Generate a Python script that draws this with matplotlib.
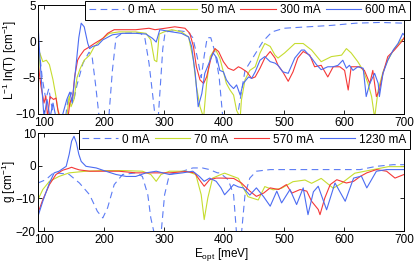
import numpy as np
import matplotlib
matplotlib.use("Agg")
import matplotlib.pyplot as plt

plt.rcParams['font.family'] = ['Liberation Sans', 'DejaVu Sans']
plt.rcParams['mathtext.default'] = 'regular'
plt.rcParams['font.size'] = 8.5

# colours of the four currents
c_dash = '#5c7cf5'
c_yel = '#c6dc30'
c_red = '#f53838'
c_blu = '#4c6cf2'

# ---- top panel: L^-1 ln(T) ----
top_labels = ['0 mA', '50 mA', '300 mA', '600 mA']

top_e_0 = [90, 97, 103, 108, 113, 118, 135, 140, 145, 150, 155, 165, 175, 180, 186, 192, 200, 208, 214, 220,
           230, 260, 268, 275, 282, 286, 290, 294, 298, 302, 320, 340, 348, 355, 362, 367, 372, 378, 385, 392,
           398, 410, 422, 435, 450, 465, 480, 500, 540, 580, 620, 660, 700]
top_0 = [0.5, -5, -8, -6.5, -9, -11, -11, -8, -7, -8, -6, -3, -1.5, -2, -6, -10.5, -13, -10.5, -4, 0.5,
         1.1, 1.2, 0.5, -3, -8, -11, -11, -6, -1, 1.3, 1.5, 1.3, 0.5, -2, -5, -2, 0.5, 0.5, -1.5, -5,
         -10.5, -14, -10.5, -4, -2, 0, 1.3, 1.8, 2.0, 2.2, 2.5, 2.6, 2.5]

top_e_50 = [90, 93, 98, 104, 109, 115, 120, 125, 130, 138, 142, 145, 150, 155, 160, 167, 176, 184, 198, 209,
            225, 253, 270, 278, 284, 288, 292, 300, 313, 329, 341, 349, 354, 360, 366, 371, 377, 385, 393, 399,
            404, 410, 416, 421, 427, 429, 435, 443, 452, 460, 468, 477, 485, 490, 501, 518, 532, 546, 562, 579,
            596, 604, 612, 623, 632, 640, 646, 651, 657, 665, 673, 684, 696, 700]
top_50 = [-6, -1.6, -2.8, -2.6, -3.2, -5.3, -7.6, -10.5, -11, -10.5, -7.5, -9, -8, -5, -3.8, -2.6, -1.9, -0.7, 0.4, 1.1,
          1.3, 1.3, 1.1, 0.2, -2.6, -2.8, 1.0, 1.3, 1.6, 1.3, 0.6, -2.6, -6.2, -9, -10.5, -5.8, -2.1, -1.0, -2.3, -4.2,
          -5.8, -6.7, -7.4, -9.5, -10.5, -8.1, -5.3, -4, -3.5, -1.6, -0.3, -0.7, -1.9, -2.3, -1.6, -0.3, -0.3, -1.2, -2.8, -2.1,
          -1.9, -1.0, -1.6, -2.8, -4, -5.8, -7.6, -10.5, -6.7, -4.2, -2.6, -1, 0.2, 0.3]

top_e_300 = [90, 95, 100, 103, 106, 110, 116, 120, 123, 127, 140, 143, 148, 151, 156, 160, 167, 175, 184, 198,
             206, 217, 231, 253, 275, 285, 302, 318, 335, 343, 349, 354, 360, 366, 371, 379, 385, 391, 399, 407,
             416, 424, 429, 438, 446, 452, 460, 468, 477, 485, 490, 498, 507, 515, 523, 532, 543, 551, 562, 573,
             582, 593, 601, 607, 612, 626, 634, 643, 648, 654, 659, 665, 673, 684, 696, 700]
top_300 = [-3, -6.2, -8.5, -7.5, -10.5, -7.6, -8, -7.8, -9.4, -10.5, -10.5, -8.5, -7.5, -4.9, -2.6, -2, -1.2, -0.8, -0.3, 0.4,
           1.1, 1.6, 1.6, 1.6, 1.8, 1.6, 1.8, 2.0, 1.8, 1.1, -0.7, -3.5, -5.3, -5.8, -4.9, -2.1, -1.0, -1.4, -2.8, -3.7,
           -4.0, -3.5, -3.7, -4.2, -5.1, -4.9, -3.7, -2.3, -1.4, -2.3, -3.3, -4.2, -5.5, -4.2, -2.3, -1.4, -1.9, -3.5, -3.3, -4.9,
           -3.5, -3.5, -4.0, -6.7, -3.5, -3.5, -4.0, -5.8, -4.0, -7.6, -6.7, -4.4, -2.1, -1.2, -0.05, 0.5]

top_e_600 = [90, 93, 97, 100, 105, 110, 115, 120, 128, 138, 143, 147, 150, 155, 158, 162, 167, 173, 176, 181,
             190, 198, 214, 231, 253, 270, 281, 287, 293, 313, 329, 341, 346, 352, 357, 363, 368, 377, 382, 388,
             393, 399, 404, 410, 416, 421, 427, 432, 441, 446, 452, 460, 468, 477, 485, 490, 498, 507, 518, 529,
             534, 546, 554, 562, 573, 582, 590, 598, 604, 609, 615, 623, 632, 637, 643, 651, 657, 659, 665, 673,
             682, 690, 698, 700]
top_600 = [2.5, -2, -7, -10.5, -8, -10.5, -8.5, -10.5, -11, -8, -7, -8.5, -6, -2, 0.5, 2.5, 2.0, -0.3, -1.0, -0.7,
           -0.5, 0.2, 0.9, 1.1, 1.1, 1.0, 0.4, -0.1, 1.6, 1.3, 1.1, 0.6, -0.7, -4.4, -9, -7.2, -4.4, -2.6, -1.6, -2.3,
           -4, -4.2, -5.3, -6, -6.5, -6, -7.4, -5.8, -4.9, -5.1, -4.2, -2.6, -2.1, -2.8, -3, -3.3, -4.2, -4.4, -2.3, -1.2,
           -1.2, -2.3, -3.2, -3.9, -3.5, -3.5, -3.3, -2.6, -3.7, -3.3, -4, -3.5, -3.7, -7.6, -5.8, -4.4, -5.8, -7.6, -4.4, -2.6,
           -1.2, -0.3, 1.1, 0.9]

# ---- bottom panel: gain g ----
bot_labels = ['0 mA', '70 mA', '570 mA', '1230 mA']

bot_e_0 = [90, 103, 114, 125, 142, 159, 176, 189, 198, 206, 217, 231, 253, 264, 273, 278, 284, 290, 295, 301,
           309, 331, 348, 364, 376, 389, 393, 407, 416, 421, 425, 429, 435, 443, 454, 477, 532, 588, 627, 654,
           682, 700]
bot_0 = [-5.3, -4.3, -2.5, -2.3, -2.7, -5.3, -8.9, -14, -16, -12.9, -5.8, -2.7, -2.2, -3.3, -8.9, -16, -21, -24, -21, -8.9,
         -2.7, -1.7, -0.7, -0.7, -1.2, -2.2, -2.2, -4.3, -8.9, -21, -25, -21, -8.9, -3.8, -1.7, -1.2, -1.2, -1.2, -1.2, -0.2,
         0.3, 0.3]

bot_e_70 = [90, 98, 109, 125, 142, 170, 198, 231, 264, 278, 287, 295, 309, 337, 353, 362, 367, 373, 381, 395,
            401, 424, 440, 457, 468, 482, 496, 515, 535, 546, 562, 582, 596, 618, 646, 674, 700]
bot_70 = [-10.4, -7.3, -4.8, -3.3, -2.2, -1.7, -1.5, -1.5, -1.7, -2.7, -4.8, -2.7, -1.7, -1.7, -2.7, -8.9, -16.5, -9.9, -3.8, -2.7,
          -2.3, -3.9, -9.5, -10.5, -6.4, -7.4, -6.9, -4.9, -4.4, -5.4, -3.9, -6.9, -5.4, -2.3, -1.3, -0.3, -0.3]

bot_e_570 = [90, 98, 109, 120, 131, 140, 146, 152, 159, 176, 198, 225, 253, 281, 309, 337, 351, 359, 367, 376,
             387, 395, 416, 429, 443, 454, 466, 477, 491, 504, 513, 527, 538, 546, 557, 560, 568, 577, 588, 604,
             616, 627, 638, 654, 671, 685, 700]
bot_570 = [-14.5, -10.4, -5.8, -2.7, -1.4, -0.9, -0.5, -0.9, -1.3, -1.7, -1.7, -1.7, -2.2, -2.2, -2.2, -1.8, -2.2, -4.3, -6.3, -4.3,
           -3.8, -3.8, -3.9, -5.3, -7.8, -9.4, -8.4, -6.8, -7.3, -5.8, -8.4, -7.3, -7.8, -10.9, -13.4, -15, -9.9, -5.8, -4.3, -5.3,
           -4.8, -3.3, -2.2, -1.2, -1.7, -3.8, -2.7]

bot_e_1230 = [90, 98, 109, 117, 125, 137, 142, 146, 150, 154, 158, 162, 170, 187, 203, 220, 237, 253, 270, 287,
              309, 331, 348, 359, 367, 376, 387, 395, 401, 408, 416, 424, 432, 443, 454, 466, 477, 488, 496, 510,
              521, 532, 540, 549, 557, 571, 585, 602, 616, 629, 638, 654, 671, 700]
bot_1230 = [-15.5, -10.9, -5.3, -2.2, -1.7, -0.2, 3.5, 7.5, 9, 7, 3.5, 1.3, -0.2, -0.7, -1.7, -2.7, -3.3, -3.3, -2.2, -1.7,
            -2.7, -2.2, -1.7, -3.3, -4.8, -3.8, -4.8, -6.8, -8.9, -7.5, -5.8, -6.5, -6.8, -9.0, -6.8, -9.5, -12.4, -7.8, -11.4, -7.3,
            -11.9, -6.8, -15, -8, -6.3, -13.5, -5.3, -10.9, -3.8, -3.2, -6.8, -1.7, -1.2, -1.2]

W, H = 415, 266
fig = plt.figure(figsize=(W / 100, H / 100), dpi=100)
ax1 = fig.add_axes([38 / W, 1 - 114 / H, 366 / W, 109 / H])
ax2 = fig.add_axes([38 / W, 1 - 231 / H, 366 / W, 98 / H])

lw = 0.8
dash = (6, 4)


def draw(ax, series, labels):
    cols = [c_dash, c_yel, c_red, c_blu]
    for i, ((e, v), lab) in enumerate(zip(series, labels)):
        if i == 0:
            ax.plot(e, v, color=cols[i], lw=lw, dashes=dash, label=lab)
        else:
            ax.plot(e, v, color=cols[i], lw=lw, label=lab)
    ax.set_xlim(90, 700)
    ax.set_xticks([100, 200, 300, 400, 500, 600, 700])
    ax.tick_params(direction='in', top=True, right=True, length=3, width=0.6, pad=2, labelsize=8.5)
    ax.tick_params(axis='y', pad=1.5)
    for s in ax.spines.values():
        s.set_linewidth(0.7)


def add_legend(ax, y_anchor):
    leg = ax.legend(loc='upper right', bbox_to_anchor=(1.016, y_anchor), ncol=4, fontsize=8.5,
                    handlelength=3.0, columnspacing=0.45, handletextpad=0.35, borderpad=0.3,
                    fancybox=False, framealpha=1, edgecolor='black', borderaxespad=0)
    leg.get_frame().set_linewidth(0.7)
    return leg


draw(ax1, [(top_e_0, top_0), (top_e_50, top_50), (top_e_300, top_300), (top_e_600, top_600)], top_labels)
ax1.set_ylim(-10, 5)
ax1.set_yticks([-10, -5, 0, 5])
ax1.set_ylabel('L$^{-1}$ ln(T) [cm$^{-1}$]', fontsize=8.5)
ax1.yaxis.set_label_coords(-0.052, 0.5)
add_legend(ax1, 1.04)

draw(ax2, [(bot_e_0, bot_0), (bot_e_70, bot_70), (bot_e_570, bot_570), (bot_e_1230, bot_1230)], bot_labels)
ax2.set_ylim(-20, 10)
ax2.set_yticks([-20, -10, 0, 10])
ax2.set_ylabel('g [cm$^{-1}$]', fontsize=8.5)
ax2.yaxis.set_label_coords(-0.054, 0.5)
ax2.set_xlabel('E$_{opt}$ [meV]', labelpad=0)
add_legend(ax2, 1.03)

fig.savefig('out.png', dpi=100)
